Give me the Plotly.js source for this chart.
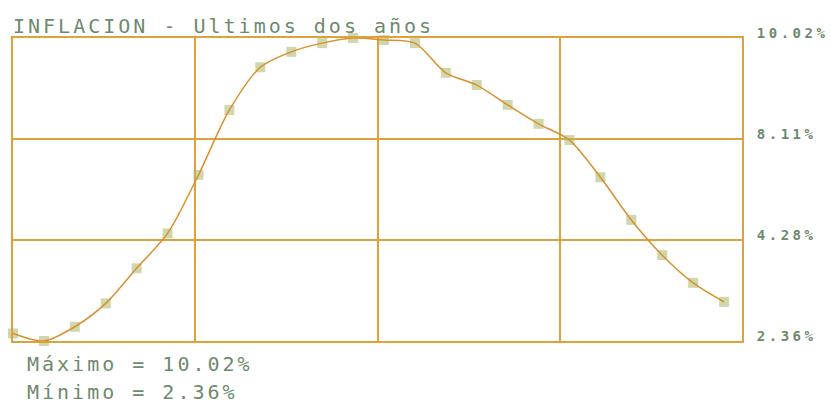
<!DOCTYPE html>
<html><head><meta charset="utf-8">
<script src="https://cdn.plot.ly/plotly-3.0.1.min.js"></script>
<style>
html,body{margin:0;padding:0;background:#fff;}
.ytick text{letter-spacing:3.5px;}
.gtitle, .annotation-text{letter-spacing:3px;}
</style></head>
<body><div id="chart" style="width:831px;height:403px;"></div>
<script>
// Monthly inflation, last two years (24 months)
const months = [0,1,2,3,4,5,6,7,8,9,10,11,12,13,14,15,16,17,18,19,20,21,22,23];
const inflation = [2.55,2.36,2.72,3.31,4.20,5.08,6.56,8.20,9.28,9.67,9.89,10.02,
                   9.97,9.89,9.14,8.83,8.33,7.85,7.44,6.50,5.42,4.53,3.83,3.35];
const tickLabels = ['2.36%','4.28%','8.11%','10.02%'];
const titleText = 'INFLACION - Ultimos dos años';

const vmax = Math.max(...inflation), vmin = Math.min(...inflation);
const tickVals = tickLabels.map((_, i) => vmin + (vmax - vmin) * i / (tickLabels.length - 1));
const xMax = 23.58;
const xGrid = [0, 1, 2, 3, 4].map(i => xMax * i / 4);

const orange = '#dfa13a';
const textCol = '#6e8a6e';
const mono = 'DejaVu Sans Mono';

const data = [
  {x: months, y: inflation, type: 'scatter', mode: 'markers',
   marker: {symbol: 'square', size: 10, color: 'rgba(178,188,118,0.6)', line: {width: 0}},
   hoverinfo: 'skip', showlegend: false, cliponaxis: false},
  {x: months, y: inflation, type: 'scatter', mode: 'lines',
   line: {color: '#d8912a', width: 1.5, shape: 'spline', smoothing: 0.8},
   showlegend: false, cliponaxis: false}
];

const layout = {
  width: 831, height: 403,
  margin: {l: 13, r: 89, t: 38, b: 62},
  paper_bgcolor: '#fff', plot_bgcolor: '#fff',
  title: {text: titleText, x: 13/831, xref: 'container', xanchor: 'left',
          y: 1 - 25.5/403, yref: 'container', yanchor: 'middle',
          font: {family: mono, size: 20, color: textCol}},
  xaxis: {range: [0, xMax], tickvals: xGrid, showticklabels: false,
          showgrid: true, gridcolor: orange, gridwidth: 2,
          showline: true, mirror: true, linecolor: orange, linewidth: 2,
          zeroline: false, ticks: '', fixedrange: true},
  yaxis: {range: [vmin, vmax], side: 'right', tickvals: tickVals, ticktext: tickLabels,
          showgrid: true, gridcolor: orange, gridwidth: 2,
          showline: true, mirror: true, linecolor: orange, linewidth: 2,
          zeroline: false, ticks: '', ticklabelstandoff: 10, ticklabelshift: -5,
          tickfont: {family: mono, size: 14, color: textCol, weight: 'bold'}, fixedrange: true},
  annotations: [
    {xref: 'paper', yref: 'paper', x: 12/729, y: 0, yshift: -23, xanchor: 'left', yanchor: 'middle',
     showarrow: false, text: 'Máximo = ' + vmax.toFixed(2) + '%',
     font: {family: mono, size: 20, color: textCol}},
    {xref: 'paper', yref: 'paper', x: 12/729, y: 0, yshift: -51, xanchor: 'left', yanchor: 'middle',
     showarrow: false, text: 'Mínimo = ' + vmin.toFixed(2) + '%',
     font: {family: mono, size: 20, color: textCol}}
  ]
};

Plotly.newPlot('chart', data, layout, {displayModeBar: false, staticPlot: true});
</script></body></html>
